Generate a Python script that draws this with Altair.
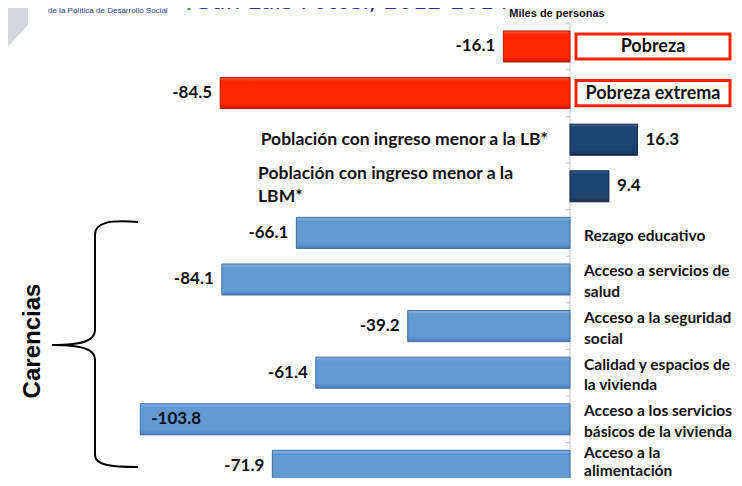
import altair as alt
import pandas as pd

categories = [
    "Pobreza", "Pobreza extrema",
    "Población con ingreso menor a la LB*", "Población con ingreso menor a la LBM*",
    "Rezago educativo", "Acceso a servicios de salud", "Acceso a la seguridad social",
    "Calidad y espacios de la vivienda", "Acceso a los servicios básicos de la vivienda",
    "Acceso a la alimentación",
]
values = [-16.1, -84.5, 16.3, 9.4, -66.1, -84.1, -39.2, -61.4, -103.8, -71.9]
groups = ["pobreza", "pobreza", "ingreso", "ingreso",
          "carencia", "carencia", "carencia", "carencia", "carencia", "carencia"]
labels = [
    "Pobreza", "Pobreza extrema",
    "Población con ingreso menor a la LB*", "Población con ingreso menor a la\nLBM*",
    "Rezago educativo", "Acceso a servicios de\nsalud", "Acceso a la seguridad\nsocial",
    "Calidad y espacios de\nla vivienda", "Acceso a los servicios\nbásicos de la vivienda",
    "Acceso a la\nalimentación",
]
title_text = "San Luis Potosí, 2012-2014"
org_text = "Consejo Nacional de Evaluación\nde la Política de Desarrollo Social"
unit_text = "Miles de personas"
side_text = "Carencias"

df = pd.DataFrame({
    "cat": categories, "value": values, "group": groups, "label": labels,
    "row": list(range(len(categories))),
})

W, H = 726, 470
xs = alt.Scale(domain=[-135.75, 39.61], nice=False, zero=False)
ys = alt.Scale(domain=[-0.826, 9.26], nice=False, zero=False, reverse=True)

FONT = "Lato"
base = alt.Chart(df).transform_calculate(
    lo="datum.row - 0.333", hi="datum.row + 0.333",
    blo="datum.row - 0.27", bhi="datum.row + 0.27",
    tick="datum.row - 0.5",
    vtxt="'' + datum.value",
)


def grad(light, main, dark):
    return alt.LinearGradient(
        gradient="linear", x1=0, y1=0, x2=0, y2=1,
        stops=[
            alt.GradientStop(offset=0, color=light),
            alt.GradientStop(offset=0.12, color=main),
            alt.GradientStop(offset=0.85, color=main),
            alt.GradientStop(offset=1, color=dark),
        ],
    )


def bars(group, fill, stroke):
    return base.transform_filter(f"datum.group == '{group}'").mark_rect(
        color=fill, stroke=stroke, strokeWidth=1
    ).encode(
        x=alt.X("value:Q", scale=xs, axis=None),
        x2=alt.X2Datum(0),
        y=alt.Y("lo:Q", scale=ys, axis=None),
        y2="hi:Q",
    )


red_bars = bars("pobreza", grad("#ff5a3c", "#ff2600", "#c81a00"), "#b81800")
navy_bars = bars("ingreso", grad("#3a6294", "#1f436f", "#142d4d"), "#10243f")
blue_bars = bars("carencia", grad("#8ab6e3", "#6199d2", "#4a7fb8"), "#3e6c9e")

axis_line = alt.Chart(df).transform_filter("datum.row == 0").mark_rule(
    color="#c0c0c0", strokeWidth=1
).encode(
    x=alt.XDatum(0, scale=xs, axis=None),
    y=alt.YDatum(-0.5, scale=ys, axis=None),
    y2=alt.Y2Datum(9.26),
)
ticks = base.mark_rule(color="#c0c0c0", strokeWidth=1).encode(
    x=alt.XDatum(0, scale=xs, axis=None),
    x2=alt.X2Datum(-1.0),
    y=alt.Y("tick:Q", scale=ys, axis=None),
)

val_common = dict(font=FONT, fontWeight="bold", fontSize=17, color="#111111", baseline="middle")
enc_val = dict(x=alt.X("value:Q", scale=xs, axis=None), y=alt.Y("row:Q", scale=ys, axis=None),
               text="vtxt:N")
neg_vals = base.transform_filter("datum.value < 0 && datum.value > -100").mark_text(
    align="right", dx=-8, **val_common).encode(**enc_val)
in_vals = base.transform_filter("datum.value <= -100").mark_text(
    align="left", dx=11, **val_common).encode(**enc_val)
pos_vals = base.transform_filter("datum.value > 0").mark_text(
    align="left", dx=8, **val_common).encode(**enc_val)

boxes = base.transform_filter("datum.group == 'pobreza'").mark_rect(
    fill="white", stroke="#ff2200", strokeWidth=3
).encode(
    x=alt.value(568), x2=alt.value(722),
    y=alt.Y("blo:Q", scale=ys, axis=None), y2="bhi:Q",
)
box_text = base.transform_filter("datum.group == 'pobreza'").mark_text(
    font=FONT, fontWeight="bold", fontSize=18, color="#111111", align="center", baseline="middle", dy=1
).encode(x=alt.value(645), y=alt.Y("row:Q", scale=ys, axis=None), text="label:N")

lb_text = base.transform_filter("datum.row == 2").mark_text(
    font=FONT, fontWeight="bold", fontSize=17.5, color="#111111", align="right", baseline="middle", dx=-22
).encode(x=alt.XDatum(0, scale=xs, axis=None), y=alt.Y("row:Q", scale=ys, axis=None), text="label:N")
lbm_text = base.transform_filter("datum.row == 3").mark_text(
    font=FONT, fontWeight="bold", fontSize=17.5, color="#111111", align="left", baseline="middle",
    dx=-312, dy=-12, lineBreak="\n", lineHeight=23
).encode(x=alt.XDatum(0, scale=xs, axis=None), y=alt.Y("row:Q", scale=ys, axis=None), text="label:N")
car_one = base.transform_filter(
    "datum.group == 'carencia' && indexof(datum.label, '\\n') < 0"
).mark_text(
    font=FONT, fontWeight="bold", fontSize=15.5, color="#111111", align="left", baseline="middle",
    dx=14, dy=3
).encode(x=alt.XDatum(0, scale=xs, axis=None), y=alt.Y("row:Q", scale=ys, axis=None), text="label:N")
car_two = base.transform_filter(
    "datum.group == 'carencia' && indexof(datum.label, '\\n') >= 0 && datum.row < 9"
).mark_text(
    font=FONT, fontWeight="bold", fontSize=15.5, color="#111111", align="left", baseline="middle",
    dx=14, dy=-8, lineBreak="\n", lineHeight=20.5
).encode(x=alt.XDatum(0, scale=xs, axis=None), y=alt.Y("row:Q", scale=ys, axis=None), text="label:N")
car_last = base.transform_filter("datum.row == 9").mark_text(
    font=FONT, fontWeight="bold", fontSize=15.5, color="#111111", align="left", baseline="middle",
    dx=14, dy=-13, lineBreak="\n", lineHeight=18
).encode(x=alt.XDatum(0, scale=xs, axis=None), y=alt.Y("row:Q", scale=ys, axis=None), text="label:N")

one = alt.Chart(df).transform_filter("datum.row == 0")

unit = one.mark_text(
    font="Liberation Sans", fontWeight="bold", fontSize=11, color="#111111",
    align="center", baseline="middle"
).encode(x=alt.value(549), y=alt.value(6), text=alt.value(unit_text))

title = one.mark_text(
    font="DejaVu Sans", fontSize=23, color="#2b2f9a", align="left", baseline="alphabetic"
).encode(x=alt.value(189), y=alt.value(1), text=alt.value(title_text))

org = one.mark_text(
    font="Liberation Sans", fontSize=8, color="#2b3990", align="left", baseline="bottom",
    lineBreak="\n", lineHeight=8
).encode(x=alt.value(40), y=alt.value(-1), text=alt.value(org_text))

green = one.mark_rule(color="#2e9e46", strokeWidth=3).encode(
    x=alt.value(181), y=alt.value(-8), y2=alt.value(2)
)

logo_path = "M-8,-8 L20,-8 L20,17 L-8,47 Z"
logo = one.mark_point(
    shape=logo_path, size=4, filled=True, color="#d4d7dc", opacity=1, strokeWidth=0
).encode(x=alt.value(0), y=alt.value(0))

brace_path = ("M130,214 C102,212 87,214 87,227 L87,322 C87,332 77,337 44,337 "
              "C77,337 87,342 87,352 L87,447 C87,457 102,459 130,459")
brace = one.mark_point(
    shape=brace_path, size=4, filled=False, color="#000000", opacity=1, strokeWidth=2
).encode(x=alt.value(0), y=alt.value(0))

carencias = one.mark_text(
    font="Liberation Sans", fontWeight="bold", fontSize=24, color="#000000",
    angle=270, align="center", baseline="middle"
).encode(x=alt.value(25), y=alt.value(333), text=alt.value(side_text))

chart = alt.layer(
    logo, org, green, title, unit,
    axis_line, ticks,
    red_bars, navy_bars, blue_bars,
    boxes, box_text, lb_text, lbm_text, car_one, car_two, car_last,
    neg_vals, in_vals, pos_vals,
    brace, carencias,
).properties(
    width=W, height=H, padding=0, background="white",
    autosize=alt.AutoSizeParams(type="none"),
).configure_view(stroke=None)

chart.save("out.html", embed_options={"renderer": "svg", "actions": False})
